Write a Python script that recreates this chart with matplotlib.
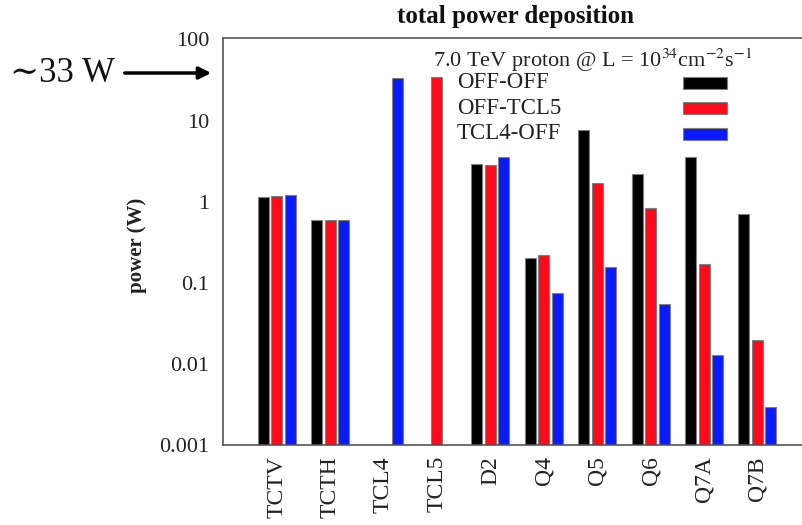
import numpy as np
import matplotlib
matplotlib.use("Agg")
import matplotlib.pyplot as plt
from matplotlib.patches import Rectangle

plt.rcParams['font.family'] = ['Liberation Serif', 'DejaVu Serif']
plt.rcParams['mathtext.fontset'] = 'stix'

# element names along the beam line
elements = ["TCTV", "TCTH", "TCL4", "TCL5", "D2", "Q4", "Q5", "Q6", "Q7A", "Q7B"]

# power deposited (W) for the three collimator settings, nan = no bar
off_off = [1.14, 0.59, np.nan, np.nan, 2.89, 0.203, 7.6, 2.22, 3.5, 0.70]
off_tcl5 = [1.17, 0.60, np.nan, 34.0, 2.80, 0.219, 1.70, 0.835, 0.169, 0.0196]
tcl4_off = [1.20, 0.59, 33.4, np.nan, 3.55, 0.075, 0.157, 0.0545, 0.0128, 0.00296]

series_names = ["OFF-OFF", "OFF-TCL5", "TCL4-OFF"]
colors = ["#000000", "#ff0a1a", "#0a1aff"]

y_ticks = [0.001, 0.01, 0.1, 1, 10, 100]
y_tick_labels = ["0.001", "0.01", "0.1", "1", "10", "100"]

W, H = 803, 525
fig = plt.figure(figsize=(W / 100, H / 100), dpi=100)
ax = fig.add_axes([223 / W, 80 / H, 590 / W, 407 / H])

x = np.arange(len(elements))
width = 0.205
offset = 0.253
for k, vals in enumerate([off_off, off_tcl5, tcl4_off]):
    ax.bar(x + (k - 1) * offset, vals, width, bottom=1e-6, color=colors[k],
           edgecolor="#808080", linewidth=0.8, zorder=2)

ax.set_yscale("log")
ax.set_ylim(0.001, 104)
ax.set_xlim(-1.006, 10.04)
ax.set_yticks(y_ticks)
ax.set_yticklabels(y_tick_labels)
ax.minorticks_off()
ax.set_xticks(x)
ax.set_xticklabels(elements, rotation=90)
ax.tick_params(axis="both", length=0, labelsize=16, colors="#222222")
ax.tick_params(axis="x", labelsize=17)
ax.tick_params(axis="y", pad=10)
ax.tick_params(axis="x", pad=8)

for s in ["left", "top", "bottom"]:
    ax.spines[s].set_color("#555555")
    ax.spines[s].set_linewidth(1.2)
ax.spines["right"].set_visible(False)

ax.set_ylabel("power (W)", fontsize=15, fontweight="bold", color="#222222")
ax.yaxis.set_label_coords(-0.128, 0.49)

fig.text(516 / W, 1 - 17 / H, "total power deposition", ha="center",
         va="center", fontsize=18, fontweight="bold", color="#111111")

# legend drawn by hand to match the original layout
fig.text(433 / W, 1 - 60 / H, r"7.0 TeV proton @ L = 10$^{34}$cm$^{-2}$s$^{-1}$",
         ha="left", va="center", fontsize=16, color="#222222")
for k, name in enumerate(series_names):
    yc = 83 + 25.3 * k
    fig.text(457 / W, 1 - yc / H, name, ha="left", va="center",
             fontsize=16.5, color="#222222")
    fig.patches.append(Rectangle((683 / W, 1 - (yc + 6) / H), 44 / W, 12 / H,
                                 transform=fig.transFigure, facecolor=colors[k],
                                 edgecolor="#808080", linewidth=0.8))

# annotation for the TCL4 / TCL5 peak
fig.text(10 / W, 1 - 73 / H, "∼33 W", ha="left", va="center",
         fontsize=25, color="#111111")
ax.annotate("", xy=(214 / W, 1 - 73 / H), xytext=(122 / W, 1 - 73 / H),
            xycoords="figure fraction", textcoords="figure fraction",
            arrowprops=dict(arrowstyle="-|>", color="black", lw=2.5,
                            mutation_scale=18), annotation_clip=False)

fig.savefig("out.png", dpi=100)
